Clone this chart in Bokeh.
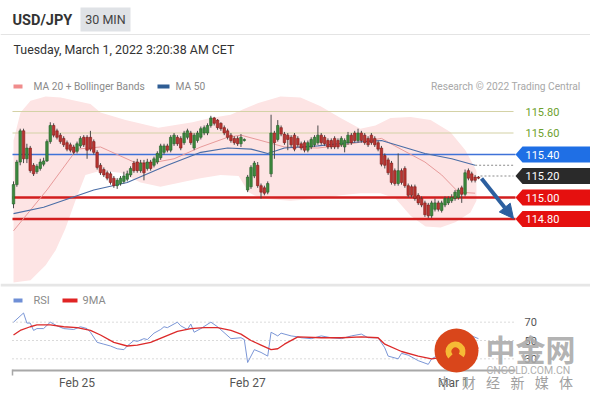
from bokeh.plotting import figure
from bokeh.models import Range1d, Label, Arrow, NormalHead, BoxAnnotation, Span
from bokeh.layouts import column
from bokeh.embed import file_html
from bokeh.resources import INLINE
from bokeh.core.properties import value

# ---------------- data ----------------
opens = [114.94, 115.12, 115.33, 115.62, 115.36, 115.46, 115.30, 115.24, 115.27, 115.31,
         115.34, 115.52, 115.67, 115.62, 115.58, 115.55, 115.51, 115.49, 115.47, 115.43,
         115.48, 115.56, 115.56, 115.56, 115.52, 115.42, 115.30, 115.26, 115.23, 115.22,
         115.18, 115.11, 115.13, 115.15, 115.17, 115.21, 115.32, 115.33, 115.25, 115.32,
         115.27, 115.33, 115.30, 115.33, 115.37, 115.42, 115.48, 115.44, 115.50, 115.56,
         115.55, 115.51, 115.56, 115.60, 115.46, 115.53, 115.56, 115.60, 115.60, 115.67,
         115.74, 115.72, 115.69, 115.65, 115.62, 115.58, 115.55, 115.55, 115.50, 115.53,
         115.07, 115.10, 115.20, 115.30, 115.11, 115.09, 115.05, 115.22, 115.60, 115.54,
         115.65, 115.59, 115.58, 115.56, 115.58, 115.55, 115.50, 115.51, 115.44, 115.47,
         115.49, 115.51, 115.58, 115.56, 115.53, 115.53, 115.55, 115.53, 115.49, 115.47,
         115.51, 115.58, 115.60, 115.53, 115.60, 115.58, 115.55, 115.58, 115.55, 115.51,
         115.46, 115.39, 115.35, 115.32, 115.25, 115.13, 115.25, 115.27, 115.11, 115.10,
         115.10, 115.02, 114.99, 114.95, 114.93, 114.83, 114.89, 114.95, 114.88, 114.93,
         114.95, 114.97, 114.99, 115.00, 115.09, 115.03, 115.25, 115.22, 115.19, 115.19]
highs = [115.15, 115.35, 115.64, 115.64, 115.50, 115.48, 115.32, 115.31, 115.36, 115.37,
         115.54, 115.70, 115.69, 115.64, 115.60, 115.57, 115.53, 115.51, 115.49, 115.52,
         115.57, 115.58, 115.58, 115.62, 115.54, 115.44, 115.32, 115.28, 115.25, 115.24,
         115.20, 115.18, 115.20, 115.24, 115.25, 115.29, 115.34, 115.36, 115.35, 115.35,
         115.36, 115.35, 115.38, 115.43, 115.50, 115.50, 115.50, 115.58, 115.60, 115.58,
         115.57, 115.62, 115.64, 115.62, 115.60, 115.62, 115.66, 115.67, 115.69, 115.76,
         115.75, 115.73, 115.70, 115.67, 115.64, 115.60, 115.57, 115.57, 115.59, 115.55,
         115.21, 115.30, 115.34, 115.33, 115.13, 115.11, 115.15, 115.77, 115.62, 115.72,
         115.67, 115.61, 115.60, 115.58, 115.60, 115.57, 115.52, 115.53, 115.53, 115.56,
         115.58, 115.67, 115.60, 115.58, 115.55, 115.55, 115.57, 115.55, 115.57, 115.55,
         115.61, 115.60, 115.62, 115.64, 115.62, 115.60, 115.57, 115.60, 115.57, 115.53,
         115.48, 115.41, 115.37, 115.34, 115.27, 115.41, 115.27, 115.29, 115.13, 115.12,
         115.12, 115.04, 115.01, 114.97, 114.95, 114.97, 114.99, 114.97, 114.97, 115.01,
         115.01, 115.03, 115.07, 115.09, 115.11, 115.26, 115.27, 115.24, 115.21, 115.20]
lows = [114.90, 115.10, 115.30, 115.32, 115.32, 115.23, 115.20, 115.22, 115.25, 115.29,
        115.33, 115.50, 115.56, 115.54, 115.50, 115.47, 115.43, 115.42, 115.40, 115.41,
        115.46, 115.47, 115.36, 115.43, 115.40, 115.26, 115.21, 115.19, 115.16, 115.12,
        115.09, 115.08, 115.11, 115.13, 115.15, 115.19, 115.23, 115.23, 115.23, 115.16,
        115.25, 115.25, 115.28, 115.31, 115.35, 115.40, 115.42, 115.42, 115.48, 115.48,
        115.44, 115.49, 115.54, 115.49, 115.44, 115.51, 115.54, 115.58, 115.58, 115.65,
        115.67, 115.63, 115.62, 115.58, 115.54, 115.51, 115.49, 115.48, 115.47, 115.52,
        115.05, 115.08, 115.18, 115.09, 114.99, 115.02, 115.03, 115.19, 115.36, 115.52,
        115.57, 115.49, 115.44, 115.47, 115.43, 115.47, 115.44, 115.42, 115.42, 115.45,
        115.47, 115.49, 115.49, 115.48, 115.45, 115.45, 115.45, 115.45, 115.47, 115.42,
        115.49, 115.49, 115.51, 115.51, 115.51, 115.49, 115.47, 115.49, 115.47, 115.43,
        115.29, 115.27, 115.21, 115.12, 115.11, 115.11, 115.12, 115.09, 115.00, 115.00,
        114.97, 114.93, 114.91, 114.82, 114.81, 114.81, 114.87, 114.87, 114.86, 114.91,
        114.93, 114.95, 114.97, 114.98, 114.95, 115.01, 115.16, 115.14, 115.14, 115.17]
closes = [115.12, 115.33, 115.62, 115.36, 115.46, 115.25, 115.22, 115.29, 115.33, 115.34,
          115.52, 115.67, 115.58, 115.56, 115.52, 115.49, 115.45, 115.44, 115.42, 115.50,
          115.55, 115.49, 115.44, 115.45, 115.42, 115.28, 115.23, 115.21, 115.18, 115.14,
          115.11, 115.16, 115.18, 115.20, 115.22, 115.27, 115.25, 115.25, 115.32, 115.23,
          115.33, 115.27, 115.36, 115.41, 115.48, 115.48, 115.44, 115.56, 115.58, 115.50,
          115.46, 115.60, 115.62, 115.51, 115.58, 115.60, 115.64, 115.65, 115.67, 115.74,
          115.69, 115.65, 115.64, 115.60, 115.56, 115.53, 115.51, 115.50, 115.56, 115.54,
          115.19, 115.28, 115.32, 115.11, 115.05, 115.04, 115.13, 115.60, 115.51, 115.67,
          115.59, 115.51, 115.54, 115.49, 115.45, 115.49, 115.46, 115.44, 115.51, 115.54,
          115.56, 115.58, 115.51, 115.50, 115.47, 115.47, 115.47, 115.47, 115.55, 115.53,
          115.58, 115.51, 115.53, 115.60, 115.53, 115.51, 115.49, 115.51, 115.49, 115.45,
          115.31, 115.30, 115.23, 115.14, 115.13, 115.25, 115.14, 115.11, 115.02, 115.02,
          114.99, 114.95, 114.93, 114.84, 114.83, 114.95, 114.95, 114.89, 114.95, 114.99,
          114.99, 115.00, 115.05, 115.07, 115.03, 115.23, 115.18, 115.16, 115.16, 115.18]

ma20_idx = [0, 10, 19, 26, 36, 41, 48, 56, 64, 68, 74, 81, 91, 101, 110, 114, 123, 128, 133, 138]
ma20_val = [114.69, 115.07, 115.45, 115.47, 115.33, 115.32, 115.36, 115.47, 115.56, 115.58,
            115.53, 115.47, 115.46, 115.50, 115.55, 115.48, 115.33, 115.21, 115.05, 115.04]
ma50_idx = [0, 9, 24, 34, 46, 56, 64, 71, 76, 81, 91, 100, 110, 123, 131, 138]
ma50_val = [114.85, 114.91, 115.07, 115.14, 115.30, 115.42, 115.46, 115.45, 115.41, 115.46,
            115.48, 115.51, 115.53, 115.41, 115.36, 115.30]

bb_up_idx = [0, 2.1, 5.1, 9.6, 14.1, 18.5, 23, 26, 33.5, 43.3, 53.5, 58.9, 64.9, 69.4, 73.2,
             79.8, 85.8, 91.8, 97.8, 103.7, 108.2, 112.7, 118.7, 124.7, 130.6, 135.1, 138.4]
bb_up_val = [115.53, 115.79, 115.90, 115.94, 115.93, 115.90, 115.87, 115.79, 115.72, 115.65,
             115.70, 115.74, 115.77, 115.83, 115.88, 115.94, 115.93, 115.85, 115.74, 115.64,
             115.67, 115.74, 115.75, 115.72, 115.61, 115.44, 115.25]
bb_lo_idx = [0, 5.1, 9.6, 12.6, 15.5, 18.5, 21.5, 26, 32, 38, 43.9, 49.9, 55.9, 61.9, 67.3,
             70.3, 73.8, 82.8, 91.8, 97.8, 103.7, 109.7, 114.2, 118.7, 123.2, 127.7, 132.1,
             136.6, 138.4]
bb_lo_val = [114.21, 114.23, 114.37, 114.51, 114.71, 114.97, 115.21, 115.25, 115.23, 115.14,
             115.10, 115.14, 115.18, 115.21, 115.20, 115.05, 114.99, 114.97, 114.99, 115.02,
             115.04, 115.04, 114.99, 114.83, 114.73, 114.72, 114.77, 114.86, 114.97]

rsi_idx = [0, 3, 4, 5, 6, 7, 9, 11, 13, 15, 18, 20, 22, 23, 25, 27, 29, 31, 33, 34, 36, 37, 39,
           40, 42, 44, 45, 46, 49, 50, 52, 53, 54, 56, 59, 61, 65, 68, 69, 70, 72, 74, 76, 77,
           79, 80, 83, 85, 86, 89, 92, 95, 98, 101, 104, 106, 109, 111, 112, 115, 116, 118,
           121, 124, 125, 129, 133, 135, 139]
rsi_val = [70, 80, 69, 69, 61, 63, 63, 70, 66, 63, 62, 65, 63, 59, 48, 46, 44, 41, 40, 44, 50,
           49, 52, 51, 58, 62, 65, 64, 70, 66, 62, 68, 59, 63, 70, 65, 52, 53, 51, 26, 40, 37,
           33, 59, 55, 58, 55, 54, 53, 52, 55, 53, 52, 55, 57, 53, 53, 42, 33, 30, 36, 34, 28,
           24, 30, 38, 45, 58, 52]
ma9_idx = [0, 2, 5, 7, 11, 15, 19, 23, 26, 30, 34, 37, 41, 45, 49, 53, 57, 61, 65, 68, 71, 74,
           77, 79, 81, 85, 92, 98, 104, 109, 111, 116, 121, 125, 131, 139]
ma9_val = [56, 61, 65, 67, 67, 65, 64, 61, 56, 48, 44, 45, 48, 54, 60, 63, 64, 64, 61, 57, 50,
           45, 40, 41, 46, 54, 53, 53, 54, 53, 46, 38, 33, 30, 33, 42]

green_levels = [115.80, 115.60]
box_levels = [115.40, 115.20, 115.00, 114.80]
box_colors = ["#1f6fe5", "#2a2a2a", "#e5100f", "#e5100f"]
rsi_levels = [30, 50, 70]
date_ticks = [19, 70, 131.5]
date_labels = ["Feb 25", "Feb 27", "Mar 1"]

# ---------------- geometry helpers (reference pixel -> data) ----------------
X0, DX = 13.0, 3.345
Y115, PPU = 197.0, 107.5
def ix(xr):
    return (xr - X0) / DX
def py(yr):
    return 115.0 + (Y115 - yr) / PPU
def rv(yr):
    return 50.0 + (340.0 - yr) / 0.9167

FONT = "Roboto"
W = 590

p = figure(width=W, height=283, x_range=Range1d(ix(0), ix(W)),
           y_range=Range1d(py(283), py(0)), output_backend="svg", toolbar_location=None,
           min_border=0, x_axis_type=None, y_axis_type=None)
p.grid.visible = False
p.outline_line_color = None
p.background_fill_color = "white"

# Bollinger band fill
p.patch(x=bb_up_idx + bb_lo_idx[::-1], y=bb_up_val + bb_lo_val[::-1],
        fill_color="#fde4e4", fill_alpha=1, line_color=None)

# horizontal levels
p.segment(x0=[ix(12)] * 2, x1=[ix(513)] * 2, y0=green_levels, y1=green_levels,
          line_color="#d4d2a6", line_width=1.2)
p.segment(x0=[ix(12)], x1=[ix(515)], y0=box_levels[:1], y1=box_levels[:1],
          line_color="#3f72d8", line_width=1.6)
p.segment(x0=[ix(12)] * 2, x1=[ix(515)] * 2, y0=box_levels[2:], y1=box_levels[2:],
          line_color="#d21e1e", line_width=2.6)

# moving averages
p.line(ma20_idx, ma20_val, line_color="#e79a9a", line_width=1)
p.line(ma50_idx, ma50_val, line_color="#4a6da6", line_width=1.1)

# dotted extension lines
p.segment(x0=[ma50_idx[-1], len(closes) - 1 + 0.6], x1=[ix(513), ix(513)],
          y0=[ma50_val[-1], box_levels[1]], y1=[ma50_val[-1], box_levels[1]],
          line_color="#8a8a8a", line_width=1, line_dash="2 2")

# candles
idx = list(range(len(closes)))
up = [c >= o for o, c in zip(opens, closes)]
fills = ["#3d8a3d" if u else "#b93430" for u in up]
edges = ["#24602a" if u else "#7d1d1b" for u in up]
p.segment(x0=idx, x1=idx, y0=lows, y1=highs, line_color="#4a4a4a", line_width=1)
p.vbar(x=idx, width=0.75, top=[max(o, c) for o, c in zip(opens, closes)],
       bottom=[min(o, c) for o, c in zip(opens, closes)],
       fill_color=fills, line_color=edges, line_width=0.6)

# forecast arrow
p.add_layout(Arrow(end=NormalHead(size=14, fill_color="#2c5f9f", line_color="#2c5f9f"),
                   x_start=ix(481), y_start=py(178), x_end=ix(513), y_end=py(218),
                   line_color="#2c5f9f", line_width=4))

# level labels
for lvl in green_levels:
    p.text(x=[ix(525)], y=[lvl], text=[f"{lvl:.2f}"], text_font=value(FONT),
           text_font_size="11px", text_color="#6d9f2c", text_baseline="middle")
hh = 8.0 / PPU
for lvl, col in zip(box_levels, box_colors):
    p.patch(x=[ix(515), ix(522), ix(592), ix(592), ix(522)],
            y=[lvl, lvl + hh, lvl + hh, lvl - hh, lvl - hh], fill_color=col, line_color=None)
    p.text(x=[ix(525)], y=[lvl], text=[f"{lvl:.2f}"], text_font=value(FONT),
           text_font_size="11px", text_color="white", text_baseline="middle")

# header
p.add_layout(BoxAnnotation(left=ix(80), right=ix(130), top=py(7), bottom=py(31),
                           fill_color="#dfe2e6", fill_alpha=1, line_color=None))
p.add_layout(Span(location=py(34), dimension="width", line_color="#e4e4e4", line_width=1))
p.add_layout(Label(x=ix(12), y=py(19.5), text="USD/JPY", text_font=FONT, text_font_size="14.5px",
                   text_font_style="bold", text_color="#333333", text_baseline="middle"))
p.add_layout(Label(x=ix(105), y=py(19), text="30 MIN", text_font=FONT, text_font_size="12.5px",
                   text_color="#444444", text_baseline="middle", text_align="center"))
p.add_layout(Label(x=ix(13), y=py(49), text="Tuesday, March 1, 2022 3:20:38 AM CET",
                   text_font=FONT, text_font_size="12.4px", text_color="#333333",
                   text_baseline="middle"))
p.add_layout(BoxAnnotation(left=ix(13), right=ix(22), top=py(84), bottom=py(88),
                           fill_color="#f08c8c", fill_alpha=1, line_color=None))
p.add_layout(Label(x=ix(33), y=py(86), text="MA 20 + Bollinger Bands", text_font=FONT,
                   text_font_size="10.2px", text_color="#8a8a8a", text_baseline="middle"))
p.add_layout(BoxAnnotation(left=ix(157), right=ix(169), top=py(84), bottom=py(88),
                           fill_color="#2f5d94", fill_alpha=1, line_color=None))
p.add_layout(Label(x=ix(175), y=py(86), text="MA 50", text_font=FONT,
                   text_font_size="10.2px", text_color="#8a8a8a", text_baseline="middle"))
p.add_layout(Label(x=ix(580), y=py(86), text="Research \u00a9 2022 Trading Central",
                   text_font=FONT, text_font_size="10.2px", text_color="#a8a8a8",
                   text_baseline="middle", text_align="right"))

# ---------------- RSI panel (with its own time axis) ----------------
r = figure(width=W, height=117, x_range=p.x_range, y_range=Range1d(rv(400), rv(283)),
           output_backend="svg", toolbar_location=None, min_border=0,
           x_axis_type=None, y_axis_type=None)
r.grid.visible = False
r.outline_line_color = None
r.add_layout(Span(location=rv(284.5), dimension="width", line_color="#e6e6e6", line_width=3))

r.segment(x0=[ix(12)] * 3, x1=[ix(515)] * 3, y0=rsi_levels, y1=rsi_levels,
          line_color="#b5b5b5", line_width=1, line_dash="1 3")
r.text(x=[ix(524)] * 3, y=rsi_levels, text=[str(v) for v in rsi_levels], text_font=value(FONT),
       text_font_size="11px", text_color="#555555", text_baseline="middle")
r.line(rsi_idx, rsi_val, line_color="#7b96d6", line_width=1)
r.line(ma9_idx, ma9_val, line_color="#dc2a2a", line_width=1.3)

r.add_layout(BoxAnnotation(left=ix(13), right=ix(22), top=rv(298), bottom=rv(302),
                           fill_color="#6f8fd6", fill_alpha=1, line_color=None))
r.add_layout(Label(x=ix(33), y=rv(299.5), text="RSI", text_font=FONT, text_font_size="11px",
                   text_color="#8a8a8a", text_baseline="middle"))
r.add_layout(BoxAnnotation(left=ix(62), right=ix(77), top=rv(298), bottom=rv(302),
                           fill_color="#e02424", fill_alpha=1, line_color=None))
r.add_layout(Label(x=ix(82), y=rv(299.5), text="9MA", text_font=FONT, text_font_size="11px",
                   text_color="#8a8a8a", text_baseline="middle"))

# time axis: baseline, start tick, date labels
r.segment(x0=[ix(12)], x1=[ix(515)], y0=[rv(370)], y1=[rv(370)],
          line_color="#a8a8a8", line_width=2)
r.segment(x0=[ix(12)], x1=[ix(12)], y0=[rv(369)], y1=[rv(375)],
          line_color="#a8a8a8", line_width=1.5)
r.text(x=date_ticks, y=[rv(382.5)] * len(date_ticks), text=date_labels, text_font=value(FONT),
       text_font_size="12px", text_color="#555555", text_baseline="middle", text_align="center")

# watermark
r.scatter(x=[ix(456)], y=[rv(350)], size=44, marker="circle", fill_color="#d9461b",
          line_color=None)
r.annular_wedge(x=[ix(455)], y=[rv(351)], inner_radius=4, outer_radius=10,
                inner_radius_units="screen", outer_radius_units="screen",
                start_angle=-0.6, end_angle=3.9, fill_color="#f6bb35", line_color=None)
r.text(x=[ix(485)], y=[rv(347)], text=["中金网"], text_font=value("Noto Sans CJK SC"),
       text_font_size="30px", text_font_style="bold", text_color="#a9a9a9",
       text_baseline="middle", text_alpha=0.9)
r.text(x=[ix(486)], y=[rv(369.5)], text=["CNGOLD.COM.CN"], text_font=value(FONT),
       text_font_size="10.5px", text_color="#b0b0b0", text_baseline="middle")
wm_chars = list("中财经新媒体")
r.text(x=[ix(437 + k * 24.3) for k in range(len(wm_chars))], y=[rv(381)] * len(wm_chars),
       text=wm_chars, text_font=value("Noto Sans CJK SC"), text_font_size="14px",
       text_color="#a0a0a0", text_baseline="middle")

layout = column(p, r, spacing=0)
open("out.html", "w").write(file_html(layout, INLINE))
